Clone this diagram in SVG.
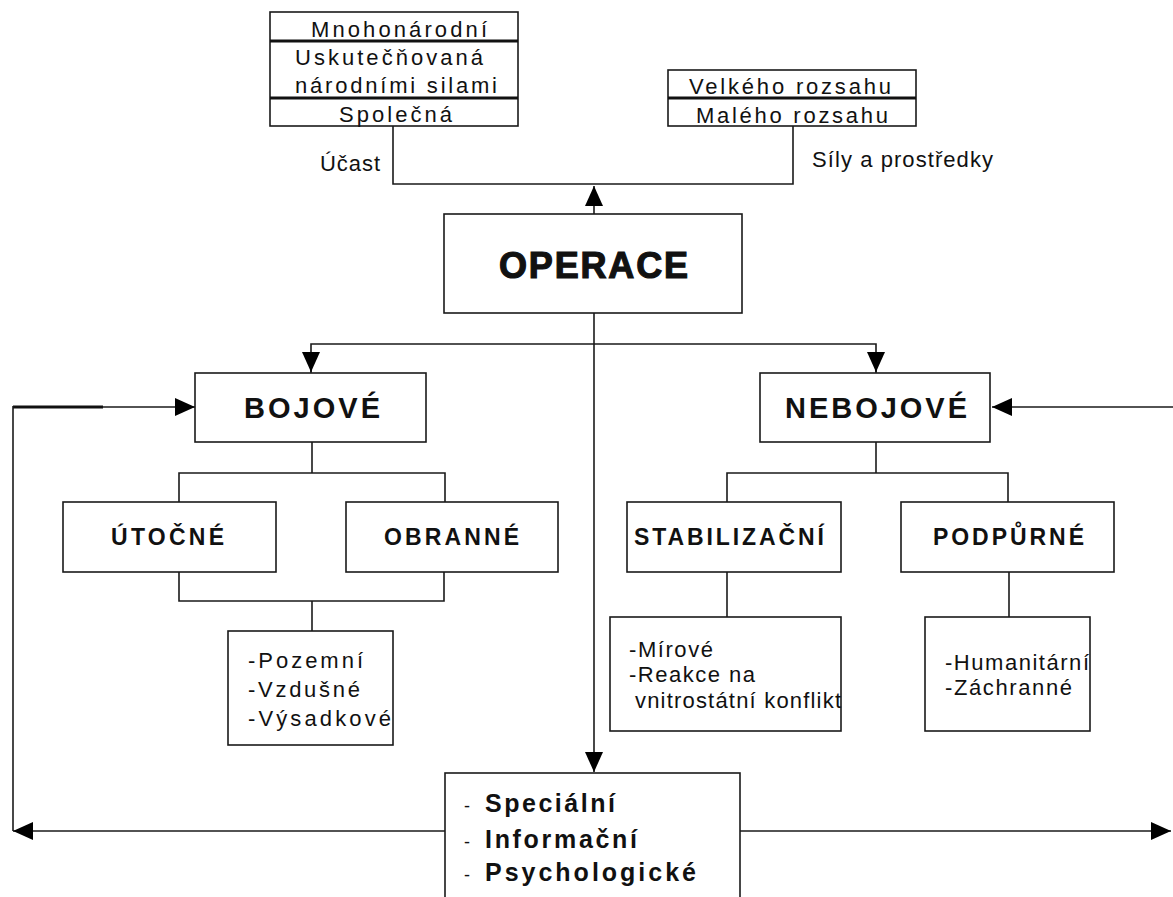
<svg xmlns="http://www.w3.org/2000/svg" width="1173" height="897" viewBox="0 0 1173 897">
<style>
.box{fill:#fff;stroke:#1a1a1a;stroke-width:1.6}
.div{stroke:#111;stroke-width:3}
.ln{fill:none;stroke:#1a1a1a;stroke-width:1.6}
.thick{fill:none;stroke:#111;stroke-width:3}
text{font-family:"Liberation Sans",Arial,sans-serif;fill:#111}
.r{font-size:22px}
.t{font-size:22px}
.b{font-weight:bold;font-size:23px}
.bb{font-weight:bold;font-size:29px}
.sp{font-weight:bold;font-size:25px}
</style>
<defs>
<marker id="ah" viewBox="0 0 20 18" refX="20" refY="9" markerWidth="20" markerHeight="18" markerUnits="userSpaceOnUse" orient="auto">
<path d="M0,0 L20,9 L0,18 z" fill="#000"/>
</marker>
</defs>

<g id="connectors">
<polyline class="ln" points="393,126 393,184 793,184 793,126"/>
<line class="ln" x1="594" y1="214" x2="594" y2="186" marker-end="url(#ah)"/>
<polyline class="ln" points="311,373 311,344 876,344 876,373"/>
<line class="ln" x1="311" y1="352" x2="311" y2="372" marker-end="url(#ah)"/>
<line class="ln" x1="876" y1="352" x2="876" y2="372" marker-end="url(#ah)"/>
<line class="ln" x1="594" y1="313" x2="594" y2="772" marker-end="url(#ah)"/>
<line class="thick" x1="13" y1="407" x2="103" y2="407"/>
<line class="ln" x1="103" y1="407" x2="195" y2="407" marker-end="url(#ah)"/>
<line class="ln" x1="13" y1="406" x2="13" y2="831"/>
<line class="ln" x1="445" y1="831" x2="13" y2="831" marker-end="url(#ah)"/>
<line class="ln" x1="740" y1="831" x2="1171" y2="831" marker-end="url(#ah)"/>
<line class="ln" x1="1173" y1="407" x2="992" y2="407" marker-end="url(#ah)"/>
<polyline class="ln" points="312,442 312,473"/>
<polyline class="ln" points="179,502 179,473 445,473 445,502"/>
<polyline class="ln" points="876,442 876,473"/>
<polyline class="ln" points="727,502 727,473 1008,473 1008,502"/>
<polyline class="ln" points="179,572 179,601 444,601 444,572"/>
<line class="ln" x1="312" y1="601" x2="312" y2="631"/>
<line class="ln" x1="727" y1="572" x2="727" y2="617"/>
<line class="ln" x1="1009" y1="572" x2="1009" y2="617"/>
</g>

<g id="ucast">
<rect class="box" x="270" y="12" width="248" height="114"/>
<line class="div" x1="270" y1="41" x2="518" y2="41"/>
<line class="div" x1="270" y1="98" x2="518" y2="98"/>
<text class="t" x="311" y="37" textLength="176" lengthAdjust="spacing">Mnohonárodní</text>
<text class="t" x="295" y="65" textLength="188" lengthAdjust="spacing">Uskutečňovaná</text>
<text class="t" x="295" y="93" textLength="202" lengthAdjust="spacing">národními silami</text>
<text class="t" x="339" y="122" textLength="113" lengthAdjust="spacing">Společná</text>
<text class="r" x="320" y="171" textLength="60" lengthAdjust="spacing">Účast</text>
</g>

<g id="sily">
<rect class="box" x="668" y="70" width="248" height="56"/>
<line class="div" x1="668" y1="98" x2="916" y2="98"/>
<text class="t" x="689" y="94" textLength="202" lengthAdjust="spacing">Velkého rozsahu</text>
<text class="t" x="696" y="123" textLength="192" lengthAdjust="spacing">Malého rozsahu</text>
<text class="r" x="812" y="167" textLength="181" lengthAdjust="spacing">Síly a prostředky</text>
</g>

<g id="operace">
<rect class="box" x="444" y="214" width="298" height="99"/>
<text x="499" y="278" font-weight="bold" font-size="36" stroke="#111" stroke-width="1.2" textLength="189" lengthAdjust="spacing">OPERACE</text>
</g>

<g id="bojove">
<rect class="box" x="195" y="373" width="231" height="69"/>
<text class="bb" x="244" y="418" textLength="136" lengthAdjust="spacing">BOJOVÉ</text>
</g>

<g id="nebojove">
<rect class="box" x="760" y="373" width="230" height="69"/>
<text class="bb" x="785" y="418" textLength="182" lengthAdjust="spacing">NEBOJOVÉ</text>
</g>

<g id="utocne">
<rect class="box" x="63" y="502" width="213" height="70"/>
<text class="b" x="111" y="545" textLength="113" lengthAdjust="spacing">ÚTOČNÉ</text>
</g>

<g id="obranne">
<rect class="box" x="346" y="502" width="212" height="70"/>
<text class="b" x="384" y="545" textLength="135" lengthAdjust="spacing">OBRANNÉ</text>
</g>

<g id="stabilizacni">
<rect class="box" x="627" y="502" width="214" height="70"/>
<text class="b" x="634" y="545" textLength="190" lengthAdjust="spacing">STABILIZAČNÍ</text>
</g>

<g id="podpurne">
<rect class="box" x="901" y="502" width="213" height="70"/>
<text class="b" x="933" y="545" textLength="151" lengthAdjust="spacing">PODPŮRNÉ</text>
</g>

<g id="druhy">
<rect class="box" x="228" y="631" width="165" height="114"/>
<text class="r" x="248" y="668" textLength="115" lengthAdjust="spacing">-Pozemní</text>
<text class="r" x="248" y="697" textLength="112" lengthAdjust="spacing">-Vzdušné</text>
<text class="r" x="248" y="726" textLength="143" lengthAdjust="spacing">-Výsadkové</text>
</g>

<g id="mirove">
<rect class="box" x="610" y="617" width="231" height="114"/>
<text class="r" x="629" y="657" textLength="84" lengthAdjust="spacing">-Mírové</text>
<text class="r" x="629" y="682" textLength="126" lengthAdjust="spacing">-Reakce na</text>
<text class="r" x="635" y="708" textLength="206" lengthAdjust="spacing">vnitrostátní konflikt</text>
</g>

<g id="humanitarni">
<rect class="box" x="925" y="617" width="165" height="114"/>
<text class="r" x="945" y="670" textLength="144" lengthAdjust="spacing">-Humanitární</text>
<text class="r" x="945" y="695" textLength="127" lengthAdjust="spacing">-Záchranné</text>
</g>

<g id="specialni">
<rect class="box" x="445" y="773" width="295" height="130"/>
<text x="464" y="812" font-size="18">-</text>
<text class="sp" x="485" y="812" textLength="130" lengthAdjust="spacing">Speciální</text>
<text x="464" y="848" font-size="18">-</text>
<text class="sp" x="485" y="848" textLength="152" lengthAdjust="spacing">Informační</text>
<text x="464" y="881" font-size="18">-</text>
<text class="sp" x="485" y="881" textLength="211" lengthAdjust="spacing">Psychologické</text>
</g>
</svg>
